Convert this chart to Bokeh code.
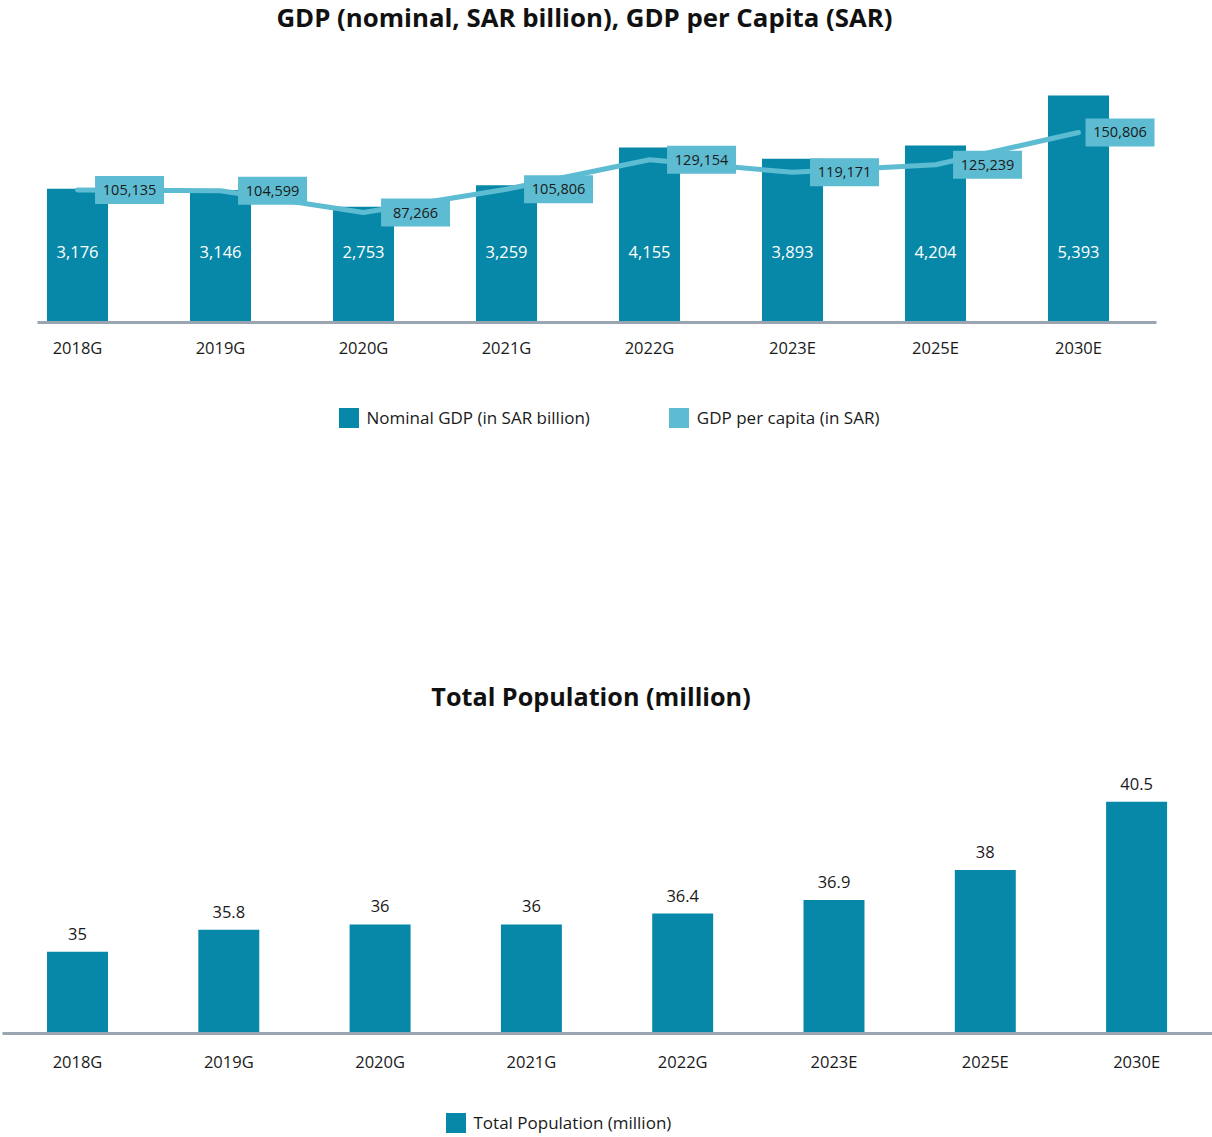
from bokeh.plotting import figure
from bokeh.models import (Range1d, FixedTicker, Legend, LegendItem, Label,
                          LinearAxis, ColumnDataSource)
from bokeh.layouts import column
from bokeh.embed import file_html
from bokeh.resources import INLINE
from bokeh.core.properties import value

# ---------------- data ----------------
years = ["2018G", "2019G", "2020G", "2021G", "2022G", "2023E", "2025E", "2030E"]
gdp_nominal = [3176, 3146, 2753, 3259, 4155, 3893, 4204, 5393]          # SAR billion
gdp_per_capita = [105135, 104599, 87266, 105806, 129154, 119171, 125239, 150806]  # SAR
population = [35, 35.8, 36, 36, 36.4, 36.9, 38, 40.5]                   # million

title_gdp = "GDP (nominal, SAR billion), GDP per Capita (SAR)"
title_pop = "Total Population (million)"
legend_gdp = "Nominal GDP (in SAR billion)"
legend_pc = "GDP per capita (in SAR)"
legend_pop = "Total Population (million)"

# ---------------- style ----------------
FONT = "Open Sans"
DARK = "#0788A8"
LIGHT = "#5DBCD1"
GRAY = "#9AA5B1"
INK = "#1A1A1A"
W = 1212
H1, H2 = 560, 577

xs = list(range(len(years)))
overrides = {i: y for i, y in enumerate(years)}


def make_fig(height, xr, yr):
    p = figure(frame_width=W, frame_height=height, x_range=xr, y_range=yr,
               output_backend="svg", toolbar_location=None,
               x_axis_location=None, y_axis_location=None,
               min_border=0)
    p.grid.visible = False
    p.outline_line_color = None
    p.background_fill_color = "white"
    p.border_fill_color = "white"
    return p


def x_axis(loc, bounds, standoff):
    return LinearAxis(ticker=FixedTicker(ticks=xs, minor_ticks=[]),
                      fixed_location=loc, bounds=bounds,
                      major_label_overrides=overrides,
                      axis_line_color=GRAY, axis_line_width=3,
                      major_tick_line_color=None, minor_tick_line_color=None,
                      major_label_standoff=standoff,
                      major_label_text_font=FONT, major_label_text_font_size="16.5px",
                      major_label_text_color=INK)


def legend(items, loc, spacing):
    return Legend(items=items, orientation="horizontal", location=loc,
                  glyph_width=25, glyph_height=25, label_height=25,
                  label_standoff=6, spacing=spacing, padding=0, margin=0,
                  border_line_color=None, background_fill_alpha=0,
                  label_text_font=FONT, label_text_font_size="17px",
                  label_text_color=INK)


def title(text, x, y, size):
    return Label(x=x, y=y, x_units="screen", y_units="screen",
                 text=text, text_align="center", text_baseline="middle",
                 text_font=FONT, text_font_style="bold",
                 text_font_size=size, text_color="#111111")


# ================= chart 1 =================
# screen geometry: first bar centre at x=77, 143 px per category, baseline at y=322
PX1 = 143
X1 = Range1d(-77 / PX1, -77 / PX1 + W / PX1)
AX1_BOUNDS = ((37 - 77) / PX1, (1156 - 77) / PX1)
GDP_PX = 0.04209      # px per SAR billion
PC_PX = 0.00126       # px per SAR
p1 = make_fig(H1, X1, Range1d(-(H1 - 322) / GDP_PX, 322 / GDP_PX))
p1.extra_y_ranges = {"pc": Range1d(-(H1 - 322) / PC_PX, 322 / PC_PX)}

label_x = [min(i + 0.364, AX1_BOUNDS[1] - 0.255) for i in xs]
src1 = ColumnDataSource(dict(
    x=xs, gdp=gdp_nominal, pc=gdp_per_capita, lx=label_x,
    gdp_txt=[f"{v:,}" for v in gdp_nominal],
    pc_txt=[f"{v:,}" for v in gdp_per_capita],
    base=[0] * len(xs),
))

bars1 = p1.vbar(x="x", top="gdp", bottom="base", width=0.427, source=src1,
                fill_color=DARK, line_color=None)
p1.text(x="x", y="base", text="gdp_txt", source=src1, y_offset=-71,
        text_align="center", text_baseline="middle",
        text_font=value(FONT), text_font_size="16.5px", text_color="white")
p1.line(x="x", y="pc", source=src1, y_range_name="pc",
        line_width=5, line_color=LIGHT, line_cap="round", line_join="round")
boxes = p1.rect(x="lx", y="pc", width=69, height=28,
                width_units="screen", height_units="screen",
                source=src1, y_range_name="pc",
                fill_color=LIGHT, line_color=None)
p1.text(x="lx", y="pc", text="pc_txt", source=src1, y_range_name="pc",
        text_align="center", text_baseline="middle",
        text_font=value(FONT), text_font_size="14.5px", text_color=INK)

p1.add_layout(x_axis(0, AX1_BOUNDS, 7), "below")
p1.add_layout(title(title_gdp, 584, H1 - 16, "25.8px"))
p1.add_layout(legend([LegendItem(label=legend_gdp, renderers=[bars1]),
                      LegendItem(label=legend_pc, renderers=[boxes])],
                     (335.5, H1 - 429.5), 76))

# ================= chart 2 =================
# screen geometry: first bar centre at x=77, 151.3 px per category, base line y=473 (in this figure)
POP_BASE = 32
PX2 = 151.3
POP_PX = 27.27        # px per million
BASE2_Y = 473
X2 = Range1d(-77 / PX2, -77 / PX2 + W / PX2)
AX2_BOUNDS = ((2 - 77) / PX2, (W - 77) / PX2)
p2 = make_fig(H2, X2, Range1d(POP_BASE - (H2 - BASE2_Y) / POP_PX,
                              POP_BASE + BASE2_Y / POP_PX))

src2 = ColumnDataSource(dict(
    x=xs, pop=population, base=[POP_BASE] * len(xs),
    pop_txt=[f"{v:g}" for v in population],
))
bars2 = p2.vbar(x="x", top="pop", bottom="base", width=0.403, source=src2,
                fill_color=DARK, line_color=None)
p2.text(x="x", y="pop", text="pop_txt", source=src2, y_offset=-18,
        text_align="center", text_baseline="middle",
        text_font=value(FONT), text_font_size="16.5px", text_color=INK)

p2.add_layout(x_axis(POP_BASE, AX2_BOUNDS, 10), "below")
p2.add_layout(title(title_pop, 590.5, H2 - (697 - H1) + 2, "25.2px"))
p2.add_layout(legend([LegendItem(label=legend_pop, renderers=[bars2])],
                     (442.5, H2 - (1134.5 - H1)), 0))

layout = column(p1, p2, spacing=0)
open("out.html", "w").write(file_html(layout, INLINE))
